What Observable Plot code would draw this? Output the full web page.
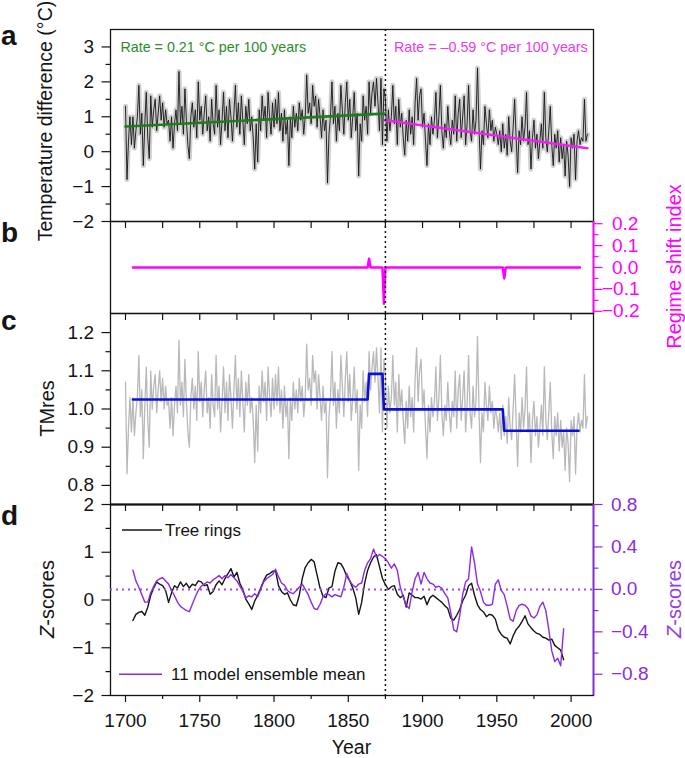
<!DOCTYPE html>
<html><head><meta charset="utf-8">
<script src="https://cdn.jsdelivr.net/npm/d3@7"></script>
<script src="https://cdn.jsdelivr.net/npm/@observablehq/plot@0.6"></script>
<style>
html,body{margin:0;padding:0;background:#fff;}
#chart{position:relative;width:685px;height:758px;overflow:hidden;font-family:"Liberation Sans",Arial,Helvetica,sans-serif;}
#chart svg{position:absolute;left:0;top:0;}
</style></head><body><div id="chart"></div>
<script>
// ---------- data ----------
const tempStart = 1700;
const temperature = [
 1.3,-0.8,0.3,1.0,0.2,1.0,0.1,0.6,1.0,1.9,
 0.5,1.1,-0.4,0.8,1.7,0.4,-0.2,1.6,0.7,1.2,
 1.5,0.6,1.1,1.6,0.9,1.4,0.7,1.2,0.8,0.9,
 0.3,1.0,0.1,0.8,1.2,0.6,2.3,0.8,1.3,0.5,
 1.8,0.9,0.2,-0.2,1.0,1.4,0.7,1.2,0.4,2.0,
 0.9,1.3,0.5,1.1,1.6,0.6,1.0,0.3,1.5,0.8,
 0.5,1.9,0.7,1.2,0.2,0.9,1.7,0.6,1.3,0.4,
 1.5,1.0,0.3,1.1,1.9,0.7,1.4,0.5,1.6,0.9,
 0.2,1.3,0.8,1.5,0.6,1.0,0.4,-0.5,0.8,-0.3,
 1.2,0.6,1.6,0.9,1.3,0.4,1.7,1.0,0.5,1.4,
 0.7,1.5,0.8,1.7,0.6,1.1,0.3,1.2,0.5,0.9,
 -0.4,1.0,0.4,1.3,0.7,1.1,0.6,1.4,0.9,1.2,
 0.5,1.0,2.2,1.1,1.4,0.8,1.9,1.3,1.6,0.7,
 1.5,1.0,0.4,1.2,0.6,0.9,-0.9,0.5,1.0,2.0,
 0.8,1.3,0.3,1.1,0.6,1.9,1.2,0.5,1.4,2.0,
 0.9,1.5,0.4,1.0,1.7,0.6,1.1,-0.7,0.8,0.3,
 1.6,0.9,1.3,0.5,2.0,1.1,1.7,2.0,1.3,2.1,
 1.4,0.6,2.1,0.2,1.8,1.5,0.3,1.2,0.6,1.0,
 1.9,0.8,1.3,0.2,1.5,0.7,1.1,0.4,-0.1,0.9,
 0.3,1.2,0.5,1.0,0.2,1.4,2.1,0.9,1.6,1.8,
 0.7,1.1,0.3,-0.4,0.8,0.2,1.0,0.5,0.9,1.7,
 0.4,1.0,1.9,0.6,0.1,0.8,0.4,1.3,0.6,0.2,
 0.9,0.5,1.6,0.3,1.1,1.5,0.4,1.0,1.6,0.2,
 0.8,1.9,0.6,0.3,1.2,0.5,0.9,2.4,0.7,-0.5,
 0.6,0.2,1.3,0.8,0.4,1.2,0.6,0.9,0.3,0.7,
 0.5,0.2,0.6,0.0,0.8,0.1,0.5,-0.1,1.0,0.3,
 0.0,0.7,1.5,0.4,-0.6,0.6,0.2,1.0,0.3,0.7,
 1.7,0.2,0.6,-0.5,0.4,0.9,0.1,0.5,-0.2,0.3,
 0.8,0.1,1.7,0.4,0.0,0.6,1.3,0.2,-0.4,0.5,
 0.1,0.6,-0.3,0.4,-0.2,0.2,-0.7,0.3,-0.1,-1.0,
 0.4,0.1,0.5,-0.8,0.3,0.6,0.2,0.4,0.3,1.5,0.3,0.5
];
const tmresStart = 1700;
const tmres = [
 1.07,0.83,0.95,1.03,0.94,1.03,0.93,0.99,1.03,1.14,
 0.98,1.05,0.87,1.01,1.11,0.97,0.90,1.10,1.00,1.06,
 1.09,0.99,1.05,1.10,1.02,1.08,1.00,1.06,1.01,1.02,
 0.95,1.03,0.93,1.01,1.06,0.99,1.18,1.01,1.07,0.98,
 1.13,1.02,0.94,0.90,1.03,1.08,1.00,1.06,0.97,1.15,
 1.02,1.07,0.98,1.05,1.10,0.99,1.03,0.95,1.09,1.01,
 0.98,1.14,1.00,1.06,0.94,1.02,1.11,0.99,1.07,0.97,
 1.09,1.03,0.95,1.05,1.14,1.00,1.08,0.98,1.10,1.02,
 0.94,1.07,1.01,1.09,0.99,1.03,0.97,0.86,1.01,0.89,
 1.06,0.99,1.10,1.02,1.07,0.97,1.11,1.03,0.98,1.08,
 1.00,1.09,1.01,1.11,0.99,1.05,0.95,1.06,0.98,1.02,
 0.87,1.03,0.97,1.07,1.00,1.05,0.99,1.08,1.02,1.06,
 0.98,1.03,1.17,1.05,1.08,1.01,1.14,1.07,1.10,1.00,
 1.09,1.03,0.97,1.06,0.99,1.02,0.82,0.98,1.03,1.15,
 1.01,1.07,0.95,1.05,0.99,1.14,1.06,0.98,1.08,1.15,
 1.02,1.09,0.97,1.03,1.11,0.99,1.05,0.84,1.01,0.95,
 1.10,1.02,1.07,0.98,1.15,1.05,1.11,1.15,1.07,1.16,
 1.08,0.99,1.16,0.94,1.13,1.09,0.95,1.06,0.99,1.03,
 1.14,1.01,1.07,0.94,1.09,1.00,1.05,0.97,0.91,1.02,
 0.95,1.06,0.98,1.03,0.94,1.08,1.16,1.02,1.10,1.13,
 1.00,1.05,0.95,0.87,1.01,0.94,1.03,0.98,1.02,1.11,
 0.97,1.03,1.14,0.99,0.93,1.01,0.97,1.07,0.99,0.94,
 1.02,0.98,1.10,0.95,1.05,1.09,0.97,1.03,1.10,0.94,
 1.01,1.14,0.99,0.95,1.06,0.98,1.02,1.19,1.00,0.86,
 0.99,0.94,1.07,1.01,0.97,1.06,0.99,1.02,0.95,1.00,
 0.98,0.94,0.99,0.92,1.01,0.93,0.98,0.91,1.03,0.95,
 0.92,1.00,1.09,0.97,0.85,0.99,0.94,1.03,0.95,1.00,
 1.11,0.94,0.99,0.86,0.97,1.02,0.93,0.98,0.90,0.95,
 1.01,0.93,1.11,0.97,0.92,0.99,1.07,0.94,0.87,0.98,
 0.93,0.99,0.89,0.97,0.90,0.94,0.84,0.95,0.91,0.81,
 0.97,0.93,0.98,0.83,0.95,0.99,0.94,0.97,0.95,1.09,0.95,0.98
];
const trendEarlyYears = [1700, 1874];
const trendEarlyValues = [0.72, 1.09];
const trendLateYears = [1875, 2011];
const trendLateValues = [0.90, 0.10];
const rateTexts = ["Rate = 0.21 °C per 100 years", "Rate = \u20130.59 °C per 100 years"];
const rateYears = [1696.6, 2011.2];
const rateValues = [3.0, 3.0];

const rsiYears = [1705, 1863, 1864, 1865, 1873, 1874, 1875, 1954, 1955, 1956, 2006];
const rsiValues = [0, 0, 0.04, 0, 0, -0.165, 0, 0, -0.05, 0, 0];

const regimeYears = [1705, 1863, 1864, 1873, 1874, 1954, 1955, 2005];
const regimeValues = [1.025, 1.025, 1.092, 1.092, 0.999, 0.999, 0.943, 0.943];

const zStart = 1705, zStep = 2;
const treeRingZ = [
 -0.43,-0.30,-0.26,-0.24,-0.32,-0.15,0.10,0.25,0.38,0.33,
 0.30,0.20,-0.05,0.15,0.30,0.25,0.38,0.28,0.35,0.25,
 0.33,0.30,0.40,0.38,0.30,0.32,0.12,0.18,0.32,0.40,
 0.32,0.45,0.55,0.66,0.48,0.58,0.35,0.22,0.02,-0.08,
 -0.20,-0.02,0.10,0.25,0.40,0.52,0.55,0.60,0.62,0.30,
 0.18,0.12,0.15,0.00,-0.10,-0.12,0.10,0.45,0.68,0.78,
 0.85,0.80,0.52,0.25,0.08,0.05,0.25,0.28,0.60,0.78,
 0.76,0.65,0.50,0.40,0.25,0.05,-0.30,-0.05,0.35,0.62,
 0.78,0.90,0.95,0.70,0.45,0.32,0.22,0.28,0.30,0.12,
 0.05,0.10,-0.15,0.15,0.10,0.05,0.05,0.02,0.08,-0.10,
 0.05,0.10,0.05,0.00,-0.05,-0.12,-0.18,-0.38,-0.42,-0.32,
 -0.20,-0.02,0.10,0.30,0.35,0.10,-0.10,-0.20,-0.25,-0.35,
 -0.30,-0.32,-0.40,-0.62,-0.72,-0.78,-0.80,-0.92,-0.75,-0.62,
 -0.55,-0.45,-0.33,-0.50,-0.58,-0.65,-0.70,-0.72,-0.78,-0.80,
 -0.84,-0.82,-0.95,-1.00,-1.05,-1.25
];
const modelZ = [
 0.18,0.08,0.02,-0.05,-0.12,-0.12,-0.03,0.03,0.08,0.10,
 0.11,0.08,0.05,-0.01,-0.06,-0.12,-0.16,-0.18,-0.20,-0.21,
 -0.14,-0.07,-0.01,0.03,0.05,0.07,0.06,0.09,0.11,0.13,
 0.10,0.13,0.11,0.14,0.11,0.08,0.03,-0.02,-0.08,-0.06,
 -0.07,-0.04,-0.07,0.00,0.07,0.10,0.12,0.14,0.19,0.12,
 0.06,0.04,-0.01,-0.03,-0.04,-0.01,0.02,0.05,0.00,-0.05,
 -0.12,-0.18,-0.19,-0.14,-0.07,-0.04,-0.05,-0.07,-0.05,-0.06,
 -0.07,0.02,0.15,0.08,0.04,0.02,0.05,0.06,0.18,0.25,
 0.29,0.38,0.30,0.33,0.31,0.29,0.25,0.20,0.24,0.18,
 0.02,-0.07,-0.15,-0.18,-0.02,0.10,0.16,0.05,0.16,0.10,
 0.06,0.05,0.02,0.03,0.01,-0.04,-0.08,-0.22,-0.38,-0.40,
 -0.25,-0.05,0.07,0.10,0.40,0.25,0.05,-0.02,-0.12,-0.15,
 -0.15,-0.14,0.05,0.09,-0.01,-0.05,-0.16,-0.28,-0.30,-0.20,
 -0.15,-0.14,-0.15,-0.18,-0.25,-0.27,-0.24,-0.16,-0.12,-0.20,
 -0.38,-0.58,-0.68,-0.65,-0.72,-0.37
];
const breakYear = 1875;

const xMajorTicks = [1700, 1750, 1800, 1850, 1900, 1950, 2000];
const xMinorTicks = [1725, 1775, 1825, 1875, 1925, 1975];
const xAllTicks = [1700, 1725, 1750, 1775, 1800, 1825, 1850, 1875, 1900, 1925, 1950, 1975, 2000];
const aTicks = [-2, -1, 0, 1, 2, 3], aMinor = [-1.5, -0.5, 0.5, 1.5, 2.5];
const bTicksPos = [0.2, 0.1, 0.0], bTicksNeg = [-0.1, -0.2], bMinor = [0.15, 0.05, -0.05, -0.15];
const cTicks = [0.8, 0.9, 1.0, 1.1, 1.2], cMinor = [0.85, 0.95, 1.05, 1.15];
const dTicks = [-2, -1, 0, 1, 2], dMinor = [-1.5, -0.5, 0.5, 1.5];
const dRightTicks = [0.8, 0.4, 0.0, -0.4, -0.8], dRightMinor = [0.6, 0.2, -0.2, -0.6];

// ---------- tables ----------
const tempData = temperature.map((t, i) => ({year: tempStart + i, t}));
const tmresData = tmres.map((m, i) => ({year: tmresStart + i, m}));
const trendEarly = trendEarlyYears.map((year, i) => ({year, t: trendEarlyValues[i]}));
const trendLate = trendLateYears.map((year, i) => ({year, t: trendLateValues[i]}));
const rateData = rateTexts.map((text, i) => ({text, year: rateYears[i], t: rateValues[i]}));
const rsiData = rsiYears.map((year, i) => ({year, r: rsiValues[i]}));
const regimeData = regimeYears.map((year, i) => ({year, m: regimeValues[i]}));
const treeData = treeRingZ.map((z, i) => ({year: zStart + zStep * i, z}));
const modelData = modelZ.map((v, i) => ({year: zStart + zStep * i, v}));

// ---------- layout ----------
const W = 685, H = 758, ML = 110, MR = 92;
const xDomain = [1689.9, 2015.1];
const FONT = '"Liberation Sans", Arial, Helvetica, sans-serif';
const INK = "#141414", GREEN = "#1e7b1e", GREENT = "#2a8c2a", MAG = "#ff00ff", MAGT = "#e83ce8",
      BLUE = "#0a10d8", PURPLE = "#8a2be2", GRAY = "#d0d0d0";
const fmt1 = d3.format(".1f"), fmtInt = d3.format("d"), none = () => "";
const chart = document.getElementById("chart");

function panel(top, bottom, yOpts, marks) {
  const svg = Plot.plot({
    width: W, height: H,
    marginLeft: ML, marginRight: MR, marginTop: top, marginBottom: H - bottom,
    x: {domain: xDomain, axis: null, label: null},
    y: {...yOpts, axis: null, label: null},
    style: {fontFamily: FONT, fontSize: "19px", background: "transparent", overflow: "visible", color: INK},
    marks
  });
  chart.appendChild(svg);
}
const breakRule = () => Plot.ruleX([breakYear], {stroke: INK, strokeWidth: 1.5, strokeDasharray: "2,3"});
const innerTicks = () => Plot.axisX({anchor: "bottom", ticks: xAllTicks, tickSize: 7, tickFormat: none, label: null, strokeWidth: 1.2});

// Panel a
panel(29, 221, {domain: [-2, 3.5]}, [
  Plot.line(tempData, {x: "year", y: "t", stroke: GRAY, strokeWidth: 5, strokeLinejoin: "round"}),
  Plot.line(tempData, {x: "year", y: "t", stroke: INK, strokeWidth: 0.9}),
  Plot.line(trendEarly, {x: "year", y: "t", stroke: GREEN, strokeWidth: 2.6}),
  Plot.line(trendLate, {x: "year", y: "t", stroke: "#ee22ee", strokeWidth: 2.6}),
  breakRule(),
  Plot.text(rateData.slice(0, 1), {x: "year", y: "t", text: "text", fill: GREENT, textAnchor: "start", fontSize: 14.3}),
  Plot.text(rateData.slice(1), {x: "year", y: "t", text: "text", fill: MAGT, textAnchor: "end", fontSize: 14.3}),
  Plot.frame({stroke: INK, strokeWidth: 1.3}),
  Plot.axisY({ticks: aTicks, tickSize: 8.5, tickPadding: 8, tickFormat: fmtInt, label: null, strokeWidth: 1.2}),
  Plot.axisY({ticks: aMinor, tickSize: 4.5, tickFormat: none, label: null, strokeWidth: 1.2}),
  innerTicks()
]);

// Panel b
panel(221, 313, {domain: [-0.21, 0.21]}, [
  Plot.line(rsiData, {x: "year", y: "r", stroke: MAG, strokeWidth: 2.5}),
  breakRule(),
  Plot.frame({stroke: INK, strokeWidth: 1.3}),
  Plot.ruleX([xDomain[1]], {stroke: MAG, strokeWidth: 1.8}),
  Plot.axisY({anchor: "right", ticks: bTicksPos, tickSize: 8.5, tickPadding: 10, tickFormat: fmt1, color: MAG, label: null, strokeWidth: 1.2}),
  Plot.axisY({anchor: "right", ticks: bTicksNeg, tickSize: 8.5, tickPadding: 0, tickFormat: fmt1, color: MAG, label: null, strokeWidth: 1.2}),
  Plot.axisY({anchor: "right", ticks: bMinor, tickSize: 4.5, tickFormat: none, color: MAG, label: null, strokeWidth: 1.2}),
  innerTicks()
]);

// Panel c
panel(313, 504, {domain: [0.75, 1.25]}, [
  Plot.line(tmresData, {x: "year", y: "m", stroke: "#b9b9b9", strokeWidth: 1.3}),
  Plot.line(regimeData, {x: "year", y: "m", stroke: BLUE, strokeWidth: 2.6}),
  breakRule(),
  Plot.frame({stroke: INK, strokeWidth: 1.3}),
  Plot.axisY({ticks: cTicks, tickSize: 8.5, tickPadding: 8, tickFormat: fmt1, label: null, strokeWidth: 1.2}),
  Plot.axisY({ticks: cMinor, tickSize: 4.5, tickFormat: none, label: null, strokeWidth: 1.2}),
  innerTicks()
]);

// Panel d (left scale: tree rings)
panel(504, 695, {domain: [-2, 2]}, [
  Plot.line(treeData, {x: "year", y: "z", stroke: INK, strokeWidth: 1.4}),
  breakRule(),
  Plot.frame({stroke: INK, strokeWidth: 1.3}),
  Plot.ruleY([2], {stroke: INK, strokeWidth: 2}),
  Plot.axisY({ticks: dTicks, tickSize: 8.5, tickPadding: 8, tickFormat: fmtInt, label: null, strokeWidth: 1.2}),
  Plot.axisY({ticks: dMinor, tickSize: 4.5, tickFormat: none, label: null, strokeWidth: 1.2}),
  Plot.axisX({anchor: "bottom", ticks: xMajorTicks, tickSize: 7, tickPadding: 11, tickFormat: fmtInt, label: null, strokeWidth: 1.2}),
  Plot.axisX({anchor: "bottom", ticks: xMinorTicks, tickSize: 4, tickFormat: none, label: null, strokeWidth: 1.2})
]);

// Panel d (right scale: model ensemble mean)
panel(504, 695, {domain: [-1.0, 0.8]}, [
  Plot.ruleY([0], {stroke: "#9b4dea", strokeWidth: 2, strokeDasharray: "2,4"}),
  Plot.line(modelData, {x: "year", y: "v", stroke: PURPLE, strokeWidth: 1.4}),
  Plot.ruleX([xDomain[1]], {stroke: PURPLE, strokeWidth: 1.8}),
  Plot.axisY({anchor: "right", ticks: dRightTicks, tickSize: 8.5, tickPadding: 9, tickFormat: fmt1, color: PURPLE, label: null, strokeWidth: 1.2}),
  Plot.axisY({anchor: "right", ticks: dRightMinor, tickSize: 4.5, tickFormat: none, color: PURPLE, label: null, strokeWidth: 1.2})
]);

// ---------- titles, panel letters, legend ----------
const ann = d3.select(chart).append("svg").attr("width", W).attr("height", H)
  .style("font-family", FONT).style("overflow", "visible");
[["a", 45], ["b", 241.5], ["c", 330], ["d", 525]].forEach(([t, y]) =>
  ann.append("text").attr("x", 1).attr("y", y).attr("font-size", 28).attr("font-weight", "bold").attr("fill", INK).text(t));
function vtitle(x, y, size, color) {
  return ann.append("text").attr("transform", `translate(${x},${y}) rotate(-90)`)
    .attr("text-anchor", "middle").attr("font-size", size).attr("fill", color);
}
vtitle(52, 121, 19.5, INK).text("Temperature difference (°C)");
vtitle(54, 408.5, 20, INK).text("TMres");
const zl = vtitle(54, 599, 20, INK); zl.append("tspan").attr("font-style", "italic").text("Z"); zl.append("tspan").text("-scores");
vtitle(681, 266.5, 20, MAG).text("Regime shift index");
const zr = vtitle(680.5, 599, 20, "#9040e6"); zr.append("tspan").attr("font-style", "italic").text("Z"); zr.append("tspan").text("-scores");
ann.append("text").attr("x", 351.5).attr("y", 753.5).attr("text-anchor", "middle").attr("font-size", 19.5).attr("fill", INK).text("Year");
// legend
ann.append("line").attr("x1", 122).attr("x2", 162).attr("y1", 530).attr("y2", 530).attr("stroke", INK).attr("stroke-width", 1.4);
ann.append("text").attr("x", 165).attr("y", 530).attr("dy", "0.35em").attr("font-size", 17).attr("fill", INK).text("Tree rings");
ann.append("line").attr("x1", 119).attr("x2", 162).attr("y1", 674.3).attr("y2", 674.3).attr("stroke", PURPLE).attr("stroke-width", 1.4);
ann.append("text").attr("x", 171).attr("y", 674.3).attr("dy", "0.35em").attr("font-size", 17).attr("fill", INK).text("11 model ensemble mean");
</script></body></html>
